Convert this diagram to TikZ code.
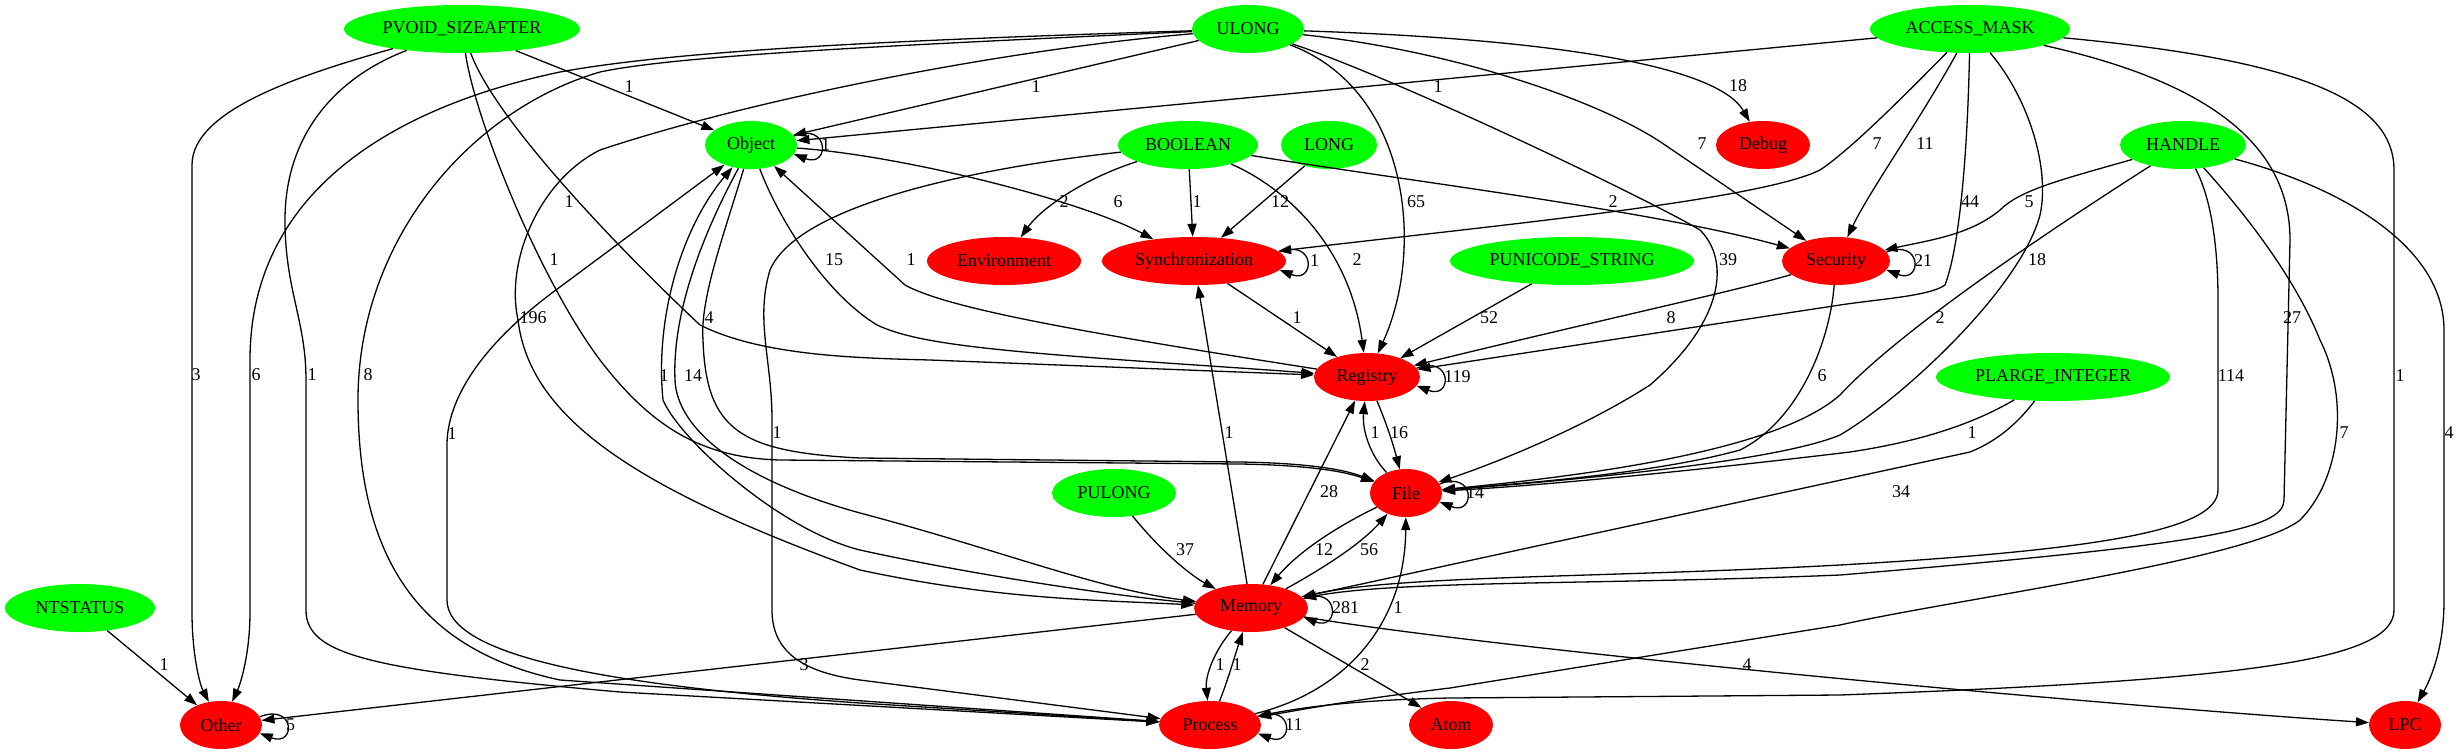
\documentclass[tikz,border=0pt]{standalone}
\usepackage{fontspec}
\setmainfont{Liberation Serif}
\usetikzlibrary{shapes.geometric,arrows.meta}
\definecolor{gvgreen}{RGB}{0,255,0}
\definecolor{gvred}{RGB}{255,0,0}
\begin{document}
\begin{tikzpicture}[x=1pt,y=-1pt,
  every node/.style={font=\fontsize{18}{20}\selectfont},
  gnode/.style={ellipse, fill=gvgreen, inner sep=0pt, minimum height=48pt},
  rnode/.style={ellipse, fill=gvred, inner sep=0pt, minimum height=48pt},
  conn/.style={draw=black, line width=1.3pt, -{Triangle[length=13pt,width=9pt]}},
  lbl/.style={inner sep=0pt}]
\useasboundingbox (0,0) rectangle (2460,755);
% nodes
\node[gnode, minimum width=236pt] (P) at (462,29) {\makebox[0pt]{PVOID\_SIZEAFTER}};
\node[gnode, minimum width=112pt] (U) at (1248,29) {\makebox[0pt]{ULONG}};
\node[gnode, minimum width=200pt] (AM) at (1970,29) {\makebox[0pt]{ACCESS\_MASK}};
\node[gnode, minimum width=92pt] (Obj) at (751,145) {\makebox[0pt]{Object}};
\node[gnode, minimum width=140pt] (B) at (1188,145) {\makebox[0pt]{BOOLEAN}};
\node[gnode, minimum width=96pt] (L) at (1329,145) {\makebox[0pt]{LONG}};
\node[rnode, minimum width=94pt] (Dbg) at (1763,145) {\makebox[0pt]{Debug}};
\node[gnode, minimum width=126pt] (H) at (2183,145) {\makebox[0pt]{HANDLE}};
\node[rnode, minimum width=154pt] (Env) at (1004,261) {\makebox[0pt]{Environment}};
\node[rnode, minimum width=184pt] (Sync) at (1194,261) {\makebox[0pt]{Synchronization}};
\node[gnode, minimum width=244pt] (PU) at (1572,261) {\makebox[0pt]{PUNICODE\_STRING}};
\node[rnode, minimum width=108pt] (Sec) at (1836,261) {\makebox[0pt]{Security}};
\node[rnode, minimum width=106pt] (Reg) at (1367,377) {\makebox[0pt]{Registry}};
\node[gnode, minimum width=234pt] (PL) at (2053,377) {\makebox[0pt]{PLARGE\_INTEGER}};
\node[rnode, minimum width=72pt] (File) at (1406,493) {\makebox[0pt]{File}};
\node[gnode, minimum width=124pt] (PUL) at (1114,493) {\makebox[0pt]{PULONG}};
\node[gnode, minimum width=150pt] (NT) at (80,608) {\makebox[0pt]{NTSTATUS}};
\node[rnode, minimum width=114pt] (Mem) at (1251,608) {\makebox[0pt]{Memory}};
\node[rnode, minimum width=82pt] (Oth) at (221,725) {\makebox[0pt]{Other}};
\node[rnode, minimum width=102pt] (Proc) at (1210,725) {\makebox[0pt]{Process}};
\node[rnode, minimum width=84pt] (Atom) at (1451,725) {\makebox[0pt]{Atom}};
\node[rnode, minimum width=72pt] (LPC) at (2405,725) {\makebox[0pt]{LPC}};
% PVOID_SIZEAFTER
\draw[conn] (P) -- (Obj);
\draw[conn] (P) .. controls (300,75) and (192,110) .. (192,165) -- (192,612) .. controls (192,655) and (200,685) .. (Oth);
\draw[conn] (P) .. controls (330,80) and (285,140) .. (285,220) .. controls (285,290) and (306,320) .. (306,380) -- (306,610) .. controls (306,655) and (370,670) .. (620,692) -- (Proc);
\draw[conn] (P) .. controls (495,120) and (620,250) .. (700,325) .. controls (760,355) and (850,358) .. (930,360) -- (Reg);
\draw[conn] (P) .. controls (475,120) and (540,280) .. (600,360) .. controls (650,425) and (700,458) .. (780,460) -- (1240,464) .. controls (1300,465) and (1340,470) .. (File);
% ULONG
\draw[conn] (U) -- (Obj);
\draw[conn] (U) .. controls (900,40) and (680,50) .. (560,72) .. controls (380,110) and (250,200) .. (250,360) -- (250,612) .. controls (250,655) and (240,685) .. (Oth);
\draw[conn] (U) .. controls (900,45) and (680,55) .. (600,72) .. controls (470,110) and (358,240) .. (358,400) .. controls (358,560) and (420,650) .. (560,680) -- (Proc);
\draw[conn] (U) .. controls (1000,50) and (750,100) .. (600,150) .. controls (540,180) and (505,260) .. (518,320) .. controls (530,420) and (640,490) .. (860,570) .. controls (1000,600) and (1100,600) .. (Mem);
\draw[conn] (U) .. controls (1580,40) and (1720,70) .. (Dbg);
\draw[conn] (U) .. controls (1450,50) and (1600,100) .. (1665,145) -- (Sec);
\draw[conn] (U) .. controls (1400,80) and (1650,200) .. (1700,230) .. controls (1730,260) and (1725,320) .. (1650,385) .. controls (1580,430) and (1490,465) .. (File);
\draw[conn] (U) .. controls (1410,90) and (1425,250) .. (Reg);
% ACCESS_MASK
\draw[conn] (AM) -- (Obj);
\draw[conn] (AM) .. controls (1900,100) and (1850,150) .. (1820,170) .. controls (1760,200) and (1500,225) .. (Sync);
\draw[conn] (AM) .. controls (1920,120) and (1870,190) .. (Sec);
\draw[conn] (AM) .. controls (1968,130) and (1962,240) .. (1945,285) .. controls (1930,296) and (1880,299) .. (1840,305) -- (Reg);
\draw[conn] (AM) .. controls (2030,100) and (2050,170) .. (2040,215) .. controls (2020,290) and (1900,400) .. (1840,435) .. controls (1780,460) and (1600,478) .. (File);
\draw[conn] (AM) .. controls (2200,80) and (2290,140) .. (2290,240) -- (2284,500) .. controls (2284,530) and (2200,545) .. (1840,575) .. controls (1600,585) and (1400,580) .. (Mem);
\draw[conn] (AM) .. controls (2300,60) and (2394,100) .. (2394,170) -- (2394,610) .. controls (2394,660) and (2250,680) .. (1840,695) -- (1450,698) .. controls (1350,700) and (1300,708) .. (Proc);
% HANDLE
\draw[conn] (H) .. controls (2060,180) and (2020,190) .. (2000,210) .. controls (1970,235) and (1930,240) .. (Sec);
\draw[conn] (H) .. controls (2050,230) and (1900,330) .. (1840,395) .. controls (1800,430) and (1700,465) .. (File);
\draw[conn] (H) .. controls (2212,200) and (2218,250) .. (2218,300) -- (2218,490) .. controls (2218,530) and (2100,550) .. (1840,565) .. controls (1600,578) and (1400,575) .. (Mem);
\draw[conn] (H) .. controls (2260,230) and (2300,290) .. (2320,340) .. controls (2350,400) and (2340,480) .. (2300,520) .. controls (2250,560) and (1950,600) .. (1840,625) -- (1450,688) .. controls (1350,700) and (1300,710) .. (Proc);
\draw[conn] (H) .. controls (2350,190) and (2444,250) .. (2444,330) -- (2444,600) .. controls (2444,650) and (2430,680) .. (LPC);
% PLARGE_INTEGER
\draw[conn] (PL) .. controls (1980,420) and (1930,440) .. (1850,452) .. controls (1700,470) and (1550,485) .. (File);
\draw[conn] (PL) .. controls (2020,420) and (2000,440) .. (1970,452) -- (Mem);
% Security
\draw[conn] (Sec.10) .. controls +(36,-14) and +(36,14) .. (Sec.-10);
\draw[conn] (Sec) .. controls (1740,290) and (1600,320) .. (Reg);
\draw[conn] (Sec) .. controls (1830,340) and (1800,420) .. (1740,450) .. controls (1650,475) and (1500,485) .. (File);
% BOOLEAN
\draw[conn] (B) .. controls (1080,180) and (1040,210) .. (Env);
\draw[conn] (B) -- (Sync);
\draw[conn] (B) .. controls (1290,190) and (1350,250) .. (Reg);
\draw[conn] (B) .. controls (1400,180) and (1650,210) .. (Sec);
\draw[conn] (B) .. controls (1000,165) and (800,200) .. (770,270) .. controls (755,320) and (772,360) .. (772,420) -- (772,610) .. controls (772,650) and (800,672) .. (860,680) -- (Proc);
% LONG, Sync, PUNICODE
\draw[conn] (L) -- (Sync);
\draw[conn] (Sync.6) .. controls +(36,-14) and +(36,14) .. (Sync.-6);
\draw[conn] (Sync) -- (Reg);
\draw[conn] (PU) -- (Reg);
% Object
\draw[conn] (Obj.12) .. controls +(36,-14) and +(36,14) .. (Obj.-12);
\draw[conn] (Obj) .. controls (900,155) and (1080,200) .. (Sync);
\draw[conn] (Obj) .. controls (775,210) and (820,290) .. (877,325) .. controls (920,345) and (1000,352) .. (1240,368) -- (Reg);
\draw[conn] (Obj) .. controls (722,240) and (700,300) .. (703,340) .. controls (706,430) and (740,452) .. (860,458) -- (1240,462) .. controls (1300,463) and (1340,468) .. (File);
\draw[conn] (Obj) .. controls (705,230) and (672,310) .. (675,380) .. controls (677,430) and (740,480) .. (860,513) .. controls (1000,550) and (1100,590) .. (Mem);
\draw[conn] (Mem) .. controls (1100,595) and (950,570) .. (860,550) .. controls (780,530) and (680,440) .. (663,400) .. controls (655,320) and (680,230) .. (Obj);
\draw[conn] (Proc) -- (860,703) .. controls (600,685) and (447,655) .. (447,600) -- (447,445) .. controls (447,400) and (480,345) .. (560,287) -- (Obj);
\draw[conn] (Reg) .. controls (1100,335) and (950,310) .. (905,285) -- (Obj);
% Registry, File
\draw[conn] (Reg.10) .. controls +(36,-14) and +(36,14) .. (Reg.-10);
\draw[conn] (Reg) .. controls (1385,420) and (1392,440) .. (File);
\draw[conn] (File) .. controls (1370,455) and (1362,430) .. (Reg);
\draw[conn] (File.15) .. controls +(36,-14) and +(36,14) .. (File.-15);
\draw[conn] (File) .. controls (1340,525) and (1300,550) .. (Mem);
% Memory
\draw[conn] (Mem) .. controls (1320,570) and (1360,545) .. (File);
\draw[conn] (Mem) -- (Reg);
\draw[conn] (Mem) -- (Sync);
\draw[conn] (Mem.10) .. controls +(36,-14) and +(36,14) .. (Mem.-10);
\draw[conn] (Mem) -- (Atom);
\draw[conn] (Mem) .. controls (1500,650) and (2100,705) .. (LPC);
\draw[conn] (Mem) -- (Oth);
\draw[conn] (Mem) .. controls (1215,650) and (1205,675) .. (Proc);
% Process
\draw[conn] (Proc) .. controls (1228,680) and (1235,655) .. (Mem);
\draw[conn] (Proc) .. controls (1350,690) and (1405,620) .. (File);
\draw[conn] (Proc.10) .. controls +(36,-14) and +(36,14) .. (Proc.-10);
% PULONG, NTSTATUS, Other
\draw[conn] (PUL) .. controls (1160,550) and (1190,575) .. (Mem);
\draw[conn] (NT) -- (Oth);
\draw[conn] (Oth.12) .. controls +(36,-14) and +(36,14) .. (Oth.-12);
% edge labels
\node[lbl] (t01) at (629,87) {1};
\node[lbl] (t02) at (1036,87) {1};
\node[lbl] (t03) at (1438,87) {1};
\node[lbl] (t04) at (1738,86) {18};
\node[lbl] (t05) at (1702,144) {7};
\node[lbl] (t06) at (1877,144) {7};
\node[lbl] (t07) at (1925,144) {11};
\node[lbl] (t08) at (569,202) {1};
\node[lbl] (t09) at (1064,202) {2};
\node[lbl] (t10) at (1118,202) {6};
\node[lbl] (t11) at (1197,202) {1};
\node[lbl] (t12) at (1280,202) {12};
\node[lbl] (t13) at (1416,202) {65};
\node[lbl] (t14) at (1613,202) {2};
\node[lbl] (t15) at (1970,202) {44};
\node[lbl] (t16) at (2029,202) {5};
\node[lbl] (t17) at (554,260) {1};
\node[lbl] (t18) at (834,260) {15};
\node[lbl] (t19) at (911,260) {1};
\node[lbl] (t20) at (1357,260) {2};
\node[lbl] (t21) at (1728,260) {39};
\node[lbl] (t22) at (2037,260) {18};
\node[lbl] (t23) at (533,318) {196};
\node[lbl] (t24) at (709,318) {4};
\node[lbl] (t25) at (1297,318) {1};
\node[lbl] (t26) at (1489,318) {52};
\node[lbl] (t27) at (1671,318) {8};
\node[lbl] (t28) at (1940,318) {2};
\node[lbl] (t29) at (2292,318) {27};
\node[lbl] (t30) at (196,375) {3};
\node[lbl] (t31) at (256,375) {6};
\node[lbl] (t32) at (312,375) {1};
\node[lbl] (t33) at (368,375) {8};
\node[lbl] (t34) at (664,376) {1};
\node[lbl] (t35) at (693,376) {14};
\node[lbl] (t36) at (1822,376) {6};
\node[lbl] (t37) at (2231,376) {114};
\node[lbl] (t38) at (2400,376) {1};
\node[lbl] (t39) at (452,434) {1};
\node[lbl] (t40) at (777,433) {1};
\node[lbl] (t41) at (1229,433) {1};
\node[lbl] (t42) at (1375,433) {1};
\node[lbl] (t43) at (1399,433) {16};
\node[lbl] (t44) at (1972,433) {1};
\node[lbl] (t45) at (2344,433) {7};
\node[lbl] (t46) at (2449,433) {4};
\node[lbl] (t47) at (1329,492) {28};
\node[lbl] (t48) at (1901,492) {34};
\node[lbl] (t49) at (1185,550) {37};
\node[lbl] (t50) at (1324,550) {12};
\node[lbl] (t51) at (1369,550) {56};
\node[lbl] (t52) at (1398,608) {1};
\node[lbl] (t53) at (164,665) {1};
\node[lbl] (t54) at (804,665) {3};
\node[lbl] (t55) at (1220,665) {1};
\node[lbl] (t56) at (1237,665) {1};
\node[lbl] (t57) at (1365,665) {2};
\node[lbl] (t58) at (1747,665) {4};
% loop labels
\node[lbl, anchor=west] (s1) at (821,145) {1};
\node[lbl, anchor=west] (s2) at (1310,261) {1};
\node[lbl, anchor=west] (s3) at (1914,261) {21};
\node[lbl, anchor=west] (s4) at (1444,377) {119};
\node[lbl, anchor=west] (s5) at (1466,493) {14};
\node[lbl, anchor=west] (s6) at (1332,608) {281};
\node[lbl, anchor=west] (s7) at (1285,725) {11};
\node[lbl, anchor=west] (s8) at (286,725) {5};
\end{tikzpicture}
\end{document}
